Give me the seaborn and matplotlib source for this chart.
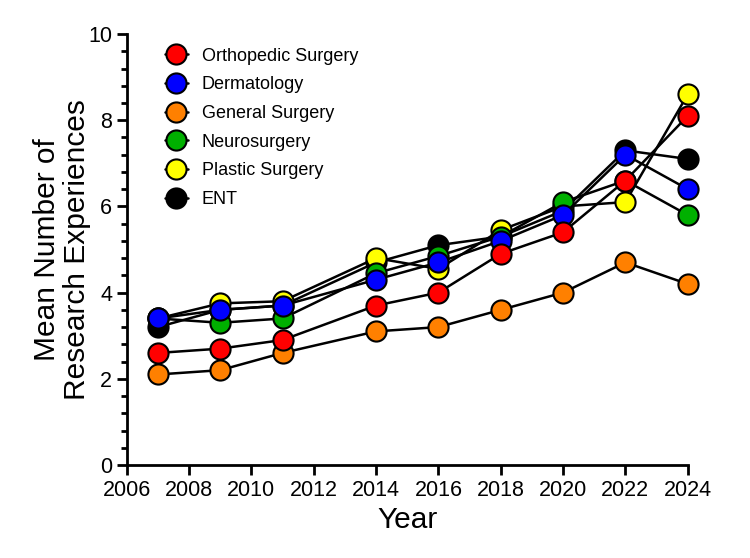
import pandas as pd
import seaborn as sns
import matplotlib.pyplot as plt
from matplotlib.ticker import MultipleLocator, AutoMinorLocator
from matplotlib.lines import Line2D

sns.set_style("ticks")
plt.rcParams['font.family'] = ['Liberation Sans', 'DejaVu Sans']
plt.rcParams.update({'text.color': 'black', 'axes.labelcolor': 'black',
                     'xtick.color': 'black', 'ytick.color': 'black'})

years = [2007, 2009, 2011, 2014, 2016, 2018, 2020, 2022, 2024]
ortho = [2.6, 2.7, 2.9, 3.7, 4.0, 4.9, 5.4, 6.6, 8.1]
derm = [3.4, 3.6, 3.7, 4.3, 4.7, 5.2, 5.8, 7.2, 6.4]
gensurg = [2.1, 2.2, 2.6, 3.1, 3.2, 3.6, 4.0, 4.7, 4.2]
neuro = [3.4, 3.3, 3.4, 4.45, 4.85, 5.3, 6.1, 6.6, 5.8]
plastic = [3.4, 3.75, 3.8, 4.8, 4.55, 5.45, 6.0, 6.1, 8.6]
ent = [3.2, 3.6, 3.7, 4.7, 5.1, 5.3, 5.9, 7.3, 7.1]

names = ["Orthopedic Surgery", "Dermatology", "General Surgery",
         "Neurosurgery", "Plastic Surgery", "ENT"]
colors = ["#ff0000", "#0000ff", "#ff8000", "#00b000", "#ffff00", "#000000"]
series = [ortho, derm, gensurg, neuro, plastic, ent]

rows = []
for n, vals in zip(names, series):
    for yr, v in zip(years, vals):
        rows.append((n, yr, v))
df = pd.DataFrame(rows, columns=["Specialty", "Year", "Mean"])

pal = dict(zip(names, colors))
fig, ax = plt.subplots(figsize=(7.5, 5.58), dpi=100)
fig.subplots_adjust(left=0.169, right=0.917, bottom=0.1667, top=0.939)

# draw in reverse so orthopedic ends up on top, like the original
sns.lineplot(data=df, x="Year", y="Mean", hue="Specialty", hue_order=names[::-1],
             palette=pal, marker="o", markersize=14.5, markeredgecolor="black",
             markeredgewidth=1.5, linewidth=1.8, legend=False, ax=ax)

for line in ax.lines:
    fc = line.get_color()
    line.set_markerfacecolor(fc)
    line.set_color("black")
    line.set_clip_on(False)

handles = [Line2D([], [], color="black", linewidth=1.8, marker="o", markersize=14.5,
                  markerfacecolor=c, markeredgecolor="black", markeredgewidth=1.5)
           for c in colors]
leg = ax.legend(handles, names, loc="upper left", bbox_to_anchor=(0.045, 0.998),
                frameon=False, fontsize=13, handlelength=1.3, labelspacing=0.65,
                handletextpad=0.75, borderaxespad=0.3)

ax.set_xlim(2006, 2024)
ax.set_ylim(0, 10)
ax.xaxis.set_major_locator(MultipleLocator(2))
ax.yaxis.set_major_locator(MultipleLocator(2))
ax.yaxis.set_minor_locator(AutoMinorLocator(5))
ax.tick_params(axis="both", which="major", labelsize=15.5, width=2, length=7,
               color="black", labelcolor="black")
ax.tick_params(axis="y", which="minor", width=2, length=4, color="black")
for s in ["left", "bottom"]:
    ax.spines[s].set_linewidth(2)
    ax.spines[s].set_color("black")
sns.despine(ax=ax)

ax.set_xlabel("Year", fontsize=21.5)
ax.set_ylabel("Mean Number of\nResearch Experiences", fontsize=21.5, linespacing=1.12)
ax.yaxis.set_label_coords(-0.063, 0.5)

plt.savefig("out.png", dpi=100)
